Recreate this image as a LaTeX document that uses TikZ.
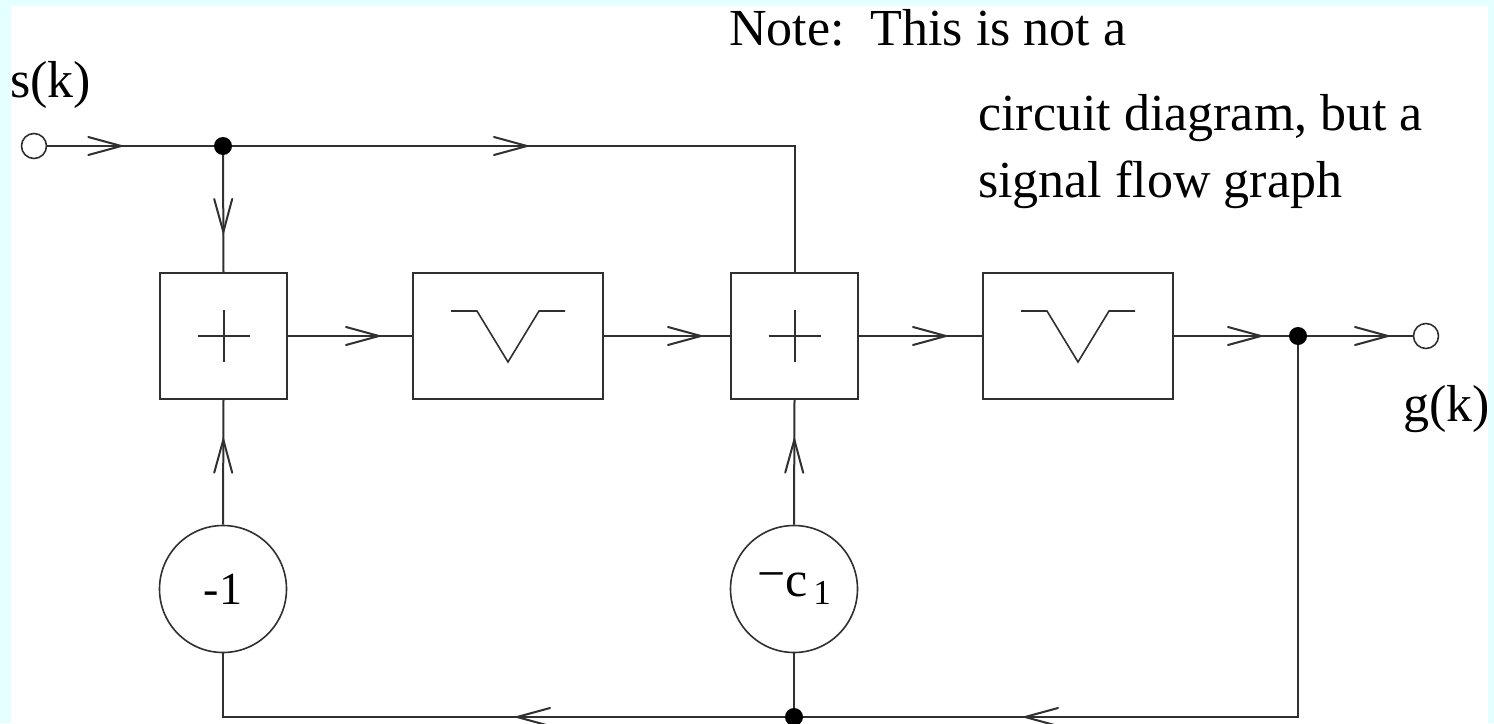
\documentclass[tikz,border=0pt]{standalone}
\usepackage{fontspec}
\setmainfont{Liberation Serif}
\usetikzlibrary{decorations.markings}
\newcommand{\fsz}[1]{\fontsize{#1}{#1}\selectfont}
\definecolor{cyanbg}{HTML}{E3FFFF}
\definecolor{ink}{HTML}{303030}
\pgfdeclarelayer{bglayer}
\pgfdeclarelayer{wirelayer}
\pgfsetlayers{bglayer,wirelayer,main}
\tikzset{
  wire/.style={line width=2pt, draw=ink},
  symb/.style={line width=2pt, draw=ink},
  notch/.style={line width=1.6pt, draw=ink},
  box/.style={draw=ink, line width=2pt, minimum width=#1, minimum height=126pt, inner sep=0pt, fill=white},
  gain/.style={draw=ink, circle, line width=1.6pt, minimum size=127pt, inner sep=0pt, fill=white},
  dotnode/.style={circle, fill=black, minimum size=18pt, inner sep=0pt},
  port/.style={circle, draw=ink, line width=1.6pt, fill=white, minimum size=25pt, inner sep=0pt},
  vflow/.style={decoration={markings, mark=at position #1 with {\draw[line width=2pt, draw=ink, line cap=round, line join=miter] (-33pt,9pt) -- (0pt,0pt) -- (-33pt,-9pt);}}, postaction={decorate}},
  lbl/.style={font=\fsz{52}, inner sep=0pt, anchor=base west},
}
\begin{document}
\begin{tikzpicture}[x=1pt,y=-1pt]
\begin{pgfonlayer}{bglayer}
  \fill[cyanbg] (0,0) rectangle (1494,723);
  \fill[white] (11,6) rectangle (1488,723);
\end{pgfonlayer}
\useasboundingbox (0,0) rectangle (1494,723);

% ports and junctions
\node[port] (in) at (34,146) {};
\node[port] (out) at (1426,336) {};
\node[dotnode] (J1) at (223,146) {};
\node[dotnode] (J2) at (1298,336) {};
\node[dotnode] (J3) at (794,717) {};

% blocks
\node[box=127pt] (b1) at (223.5,336) {};
\node[box=190pt] (b2) at (508,336) {};
\node[box=127pt] (b3) at (794.5,336) {};
\node[box=190pt] (b4) at (1078,336) {};

% gains
\node[gain] (m1) at (223,589) {\fsz{46}-1};
\node[gain] (c1) at (794,589) {\fsz{50}\raisebox{6pt}{−}c\hspace{6pt}\raisebox{-8pt}{\fsz{35}1}};

% symbols inside blocks
\draw[symb] (b1.center) +(-26,0) -- +(26,0) (b1.center) +(0,-26) -- +(0,26);
\draw[symb] (b3.center) +(-26,0) -- +(26,0) (b3.center) +(0,-26) -- +(0,26);
\draw[notch] (b2.center) +(-57,-25) -- +(-31,-25) -- +(0,26) -- +(31,-25) -- +(57,-25);
\draw[notch] (b4.center) +(-57,-25) -- +(-31,-25) -- +(0,26) -- +(31,-25) -- +(57,-25);

% connectors
\begin{pgfonlayer}{wirelayer}
  \draw[wire, vflow=74pt] (in) -- (J1.center);
  \draw[wire, vflow=304pt] (J1.center) -| (b3.north);
  \draw[wire, vflow=86pt] (J1.center) -- (b1.north);
  \draw[wire, vflow=91pt] (b1.east) -- (b2.west);
  \draw[wire, vflow=97pt] (b2.east) -- (b3.west);
  \draw[wire, vflow=87pt] (b3.east) -- (b4.west);
  \draw[wire, vflow=87pt] (b4.east) -- (J2.center);
  \draw[wire, vflow=90pt] (J2.center) -- (out);
  \draw[wire, vflow=654pt] (J2.center) |- (J3.center);
  \draw[wire, vflow=277pt] (J3.center) -| (m1.south);
  \draw[wire] (J3.center) -- (c1.south);
  \draw[wire, vflow=85pt] (m1.north) -- (b1.south);
  \draw[wire, vflow=85pt] (c1.north) -- (b3.south);
\end{pgfonlayer}

% labels
\node[lbl] (sk) at (10,97) {s(k)};
\node[lbl, anchor=base east] (gk) at (1490,421) {g(k)};
\node[lbl] (n1) at (729,45) {Note:\ \ This is not a};
\node[lbl] (n2) at (978,130) {circuit diagram, but a};
\node[lbl] (n3) at (978,197) {signal flow graph};
\end{tikzpicture}
\end{document}
